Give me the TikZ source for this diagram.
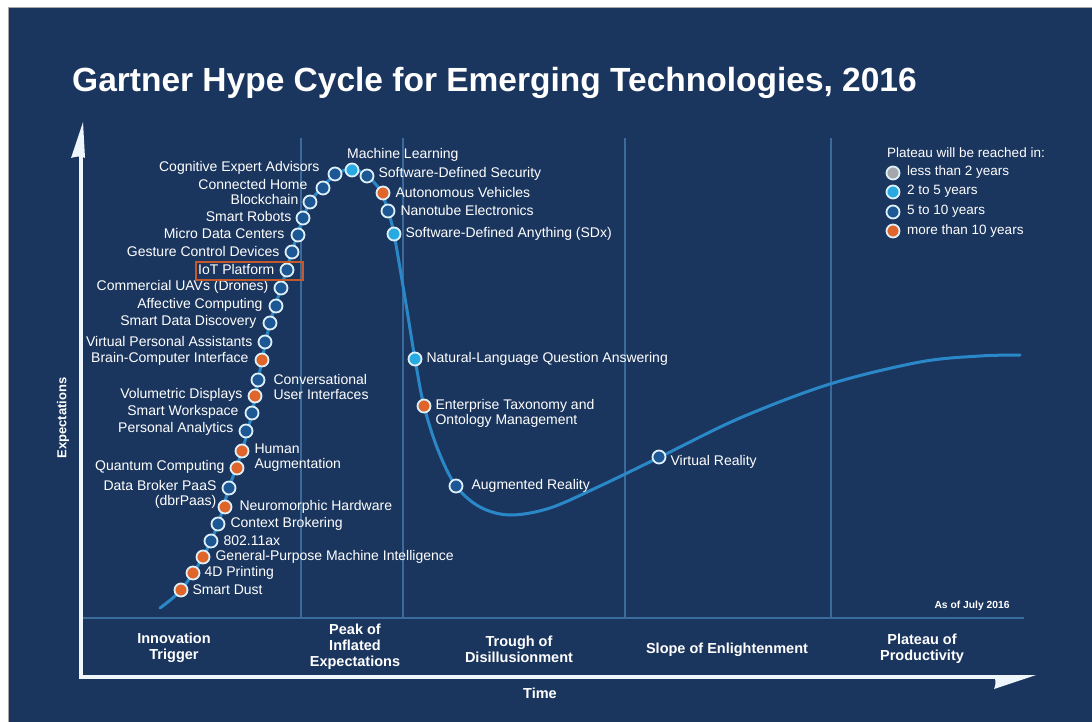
\documentclass[tikz,border=0pt]{standalone}
\usepackage{fontspec}
\setmainfont{Liberation Sans}
\usetikzlibrary{positioning}
\definecolor{bg}{HTML}{1B365E}
\definecolor{gridc}{HTML}{3B6A9C}
\definecolor{curvec}{HTML}{2A88C8}
\definecolor{dkblue}{HTML}{1E5894}
\definecolor{ltblue}{HTML}{27A9E1}
\definecolor{orng}{HTML}{E0652B}
\definecolor{gry}{HTML}{A3A6AA}
\definecolor{ring}{HTML}{DDEFF8}
\definecolor{boxc}{HTML}{C4592C}
\definecolor{axisc}{HTML}{EEF6FB}
\begin{document}
\begin{tikzpicture}[x=1pt,y=-1pt,
  dot/.style={circle, inner sep=0pt, minimum size=13pt, line width=1.8pt, draw=ring},
  dk/.style={dot, fill=dkblue},
  lt/.style={dot, fill=ltblue},
  og/.style={dot, fill=orng},
  gy/.style={dot, fill=gry},
  lbl/.style={text=white, font=\fontsize{14}{15}\selectfont, inner sep=0pt},
  lg/.style={text=white, font=\fontsize{13.5}{15}\selectfont, inner sep=0pt, anchor=west},
  phase/.style={text=white, font=\fontsize{14.5}{16}\selectfont\bfseries, align=center, inner sep=0pt},
  gridline/.style={draw=gridc, line width=1.2pt},
  axisline/.style={draw=axisc, line width=4pt},
  hype/.style={draw=curvec, line width=3pt, line cap=round}
]
\useasboundingbox (0,0) rectangle (1092,722);
\fill[white] (0,0) rectangle (1092,722);
\fill[bg] (8,8) rectangle (1092,722);
\draw[gray!70, line width=1pt] (8,722) -- (8,8) -- (1092,8);

% title
\node[anchor=base west, text=white, inner sep=0pt, font=\fontsize{33.5}{40}\selectfont\bfseries] (title) at (72,92) {Gartner Hype Cycle for Emerging Technologies, 2016};

% grid
\coordinate (v1t) at (301,138); \coordinate (v1b) at (301,618);
\coordinate (v2t) at (403,138); \coordinate (v2b) at (403,618);
\coordinate (v3t) at (625,138); \coordinate (v3b) at (625,618);
\coordinate (v4t) at (831,138); \coordinate (v4b) at (831,618);
\coordinate (hl) at (81,618); \coordinate (hr) at (1024,618);
\draw[gridline] (v1t) -- (v1b);
\draw[gridline] (v2t) -- (v2b);
\draw[gridline] (v3t) -- (v3b);
\draw[gridline] (v4t) -- (v4b);
\draw[gridline] (hl) -- (hr);

% axes
\coordinate (ytop) at (81,150);
\coordinate (orig) at (81,677);
\coordinate (xend) at (1000,677);
\draw[axisline] (ytop) -- (orig) -- (xend);
\fill[axisc] (83,122) -- (71,158) .. controls (77,156) and (82,156) .. (85,158) -- cycle;
\fill[axisc] (994,675) -- (1036,675) -- (994,689) .. controls (996,685) and (996,680) .. (994,675) -- cycle;

% curve
\draw[hype] plot[smooth, tension=0.55] coordinates {
 (160,608) (181,590) (203,557) (218,524) (229,488) (242,451) (252,413) (262,360)
 (270,323) (281,288) (292,252) (303,218) (313,198) (335,175) (352,169) (367,176)
 (380,190) (388,211) (394,234) (405,298) (415,359) (424,406) (438,450) (456,486)
 (480,507) (510,515) (550,508) (600,486) (660,457) (740,418) (830,384) (920,362)
 (980,356) (1020,355)};

% dots and labels: ascending side
\node[og] (dSD) at (181,590) {};
\node[lbl, right=4pt of dSD] (lSD) {Smart Dust};
\node[og] (d4D) at (193,573) {};
\node[lbl, right=4pt of d4D] (l4D) {4D Printing};
\node[og] (dGP) at (203,557) {};
\node[lbl, right=5pt of dGP] (lGP) {General-Purpose Machine Intelligence};
\node[dk] (dAX) at (211,541) {};
\node[lbl, right=5pt of dAX] (lAX) {802.11ax};
\node[dk] (dCB) at (218,524) {};
\node[lbl, right=5pt of dCB] (lCB) {Context Brokering};
\node[og] (dNH) at (225,507) {};
\node[lbl, right=7pt of dNH] (lNH) {Neuromorphic Hardware};
\node[dk] (dDB) at (229,488) {};
\node[lbl, left=5pt of dDB, yshift=-6pt, align=right] (lDB) {Data Broker PaaS\\(dbrPaas)};
\node[og] (dQC) at (237,468) {};
\node[lbl, left=5pt of dQC, yshift=1pt] (lQC) {Quantum Computing};
\node[og] (dHA) at (242,451) {};
\node[lbl, right=5pt of dHA, yshift=-7pt, align=left] (lHA) {Human\\Augmentation};
\node[dk] (dPA) at (246,431) {};
\node[lbl, left=5pt of dPA, yshift=2pt] (lPA) {Personal Analytics};
\node[dk] (dSW) at (252,413) {};
\node[lbl, left=6pt of dSW, yshift=1pt] (lSW) {Smart Workspace};
\node[og] (dVD) at (255,396) {};
\node[lbl, left=5pt of dVD, yshift=1pt] (lVD) {Volumetric Displays};
\node[dk] (dCU) at (258,380) {};
\node[lbl, right=8pt of dCU, yshift=-7pt, align=left] (lCU) {Conversational\\User Interfaces};
\node[og] (dBC) at (262,360) {};
\node[lbl, left=6pt of dBC, yshift=1pt] (lBC) {Brain-Computer Interface};
\node[dk] (dVP) at (265,342) {};
\node[lbl, left=5pt of dVP, yshift=1pt] (lVP) {Virtual Personal Assistants};
\node[dk] (dDD) at (270,323) {};
\node[lbl, left=6pt of dDD, yshift=1pt] (lDD) {Smart Data Discovery};
\node[dk] (dAC) at (276,306) {};
\node[lbl, left=6pt of dAC, yshift=1pt] (lAC) {Affective Computing};
\node[dk] (dUA) at (281,288) {};
\node[lbl, left=5pt of dUA, yshift=1pt] (lUA) {Commercial UAVs (Drones)};
\node[dk] (dIoT) at (287,270) {};
\node[lbl, left=5pt of dIoT, yshift=1pt] (lIoT) {IoT Platform};
\node[dk] (dGC) at (292,252) {};
\node[lbl, left=5pt of dGC, yshift=1pt] (lGC) {Gesture Control Devices};
\node[dk] (dMD) at (298,235) {};
\node[lbl, left=6pt of dMD, yshift=2pt] (lMD) {Micro Data Centers};
\node[dk] (dSR) at (303,218) {};
\node[lbl, left=4pt of dSR, yshift=2pt] (lSR) {Smart Robots};
\node[dk] (dBL) at (310,202) {};
\node[lbl, left=4pt of dBL, yshift=3pt] (lBL) {Blockchain};
\node[dk] (dCH) at (323,188) {};
\node[lbl, left=8pt of dCH, yshift=4pt] (lCH) {Connected Home};
\node[dk] (dCE) at (335,174) {};
\node[lbl, left=8pt of dCE, yshift=6pt] (lCE) {Cognitive Expert Advisors};

% peak and descent
\node[lt] (dML) at (352,170) {};
\node[lbl, anchor=west] (lML) at (347,155) {Machine Learning};
\node[dk] (dSS) at (367,176) {};
\node[lbl, right=4pt of dSS, yshift=2pt] (lSS) {Software-Defined Security};
\node[og] (dAV) at (383,193) {};
\node[lbl, right=5pt of dAV, yshift=1pt] (lAV) {Autonomous Vehicles};
\node[dk] (dNE) at (388,211) {};
\node[lbl, right=5pt of dNE, yshift=1pt] (lNE) {Nanotube Electronics};
\node[lt] (dSX) at (394,234) {};
\node[lbl, right=4pt of dSX] (lSX) {Software-Defined Anything (SDx)};
\node[lt] (dNL) at (415,359) {};
\node[lbl, right=4pt of dNL] (lNL) {Natural-Language Question Answering};
\node[og] (dET) at (424,406) {};
\node[lbl, right=4pt of dET, yshift=-7pt, align=left] (lET) {Enterprise Taxonomy and\\Ontology Management};
\node[dk] (dAR) at (456,486) {};
\node[lbl, right=8pt of dAR] (lAR) {Augmented Reality};
\node[dk] (dVR) at (659,457) {};
\node[lbl, right=4pt of dVR, yshift=-5pt] (lVR) {Virtual Reality};

% IoT highlight box
\draw[boxc, line width=2pt] (196,262) rectangle (303,280);

% legend
\node[lg] (lgh) at (887,153) {Plateau will be reached in:};
\node[gy] (lg1) at (893,173) {};
\node[lg] (lgt1) at (907,172) {less than 2 years};
\node[lt] (lg2) at (893,192) {};
\node[lg] (lgt2) at (907,191) {2 to 5 years};
\node[dk] (lg3) at (893,212) {};
\node[lg] (lgt3) at (907,211) {5 to 10 years};
\node[og] (lg4) at (893,231) {};
\node[lg] (lgt4) at (907,231) {more than 10 years};

% phases
\node[phase] (p1) at (174,648) {Innovation\\Trigger};
\node[phase] (p2) at (355,647) {Peak of\\Inflated\\Expectations};
\node[phase] (p3) at (519,649) {Trough of\\Disillusionment};
\node[phase] (p4) at (727,650) {Slope of Enlightenment};
\node[phase] (p5) at (922,649) {Plateau of\\Productivity};
\node[phase] (time) at (540,693) {Time};
\node[text=white, inner sep=0pt, font=\fontsize{10.3}{12}\selectfont\bfseries] (asof) at (972,606) {As of July 2016};
\node[text=white, inner sep=0pt, font=\fontsize{13}{15}\selectfont\bfseries, rotate=90] (expect) at (63,418) {Expectations};
\end{tikzpicture}
\end{document}
